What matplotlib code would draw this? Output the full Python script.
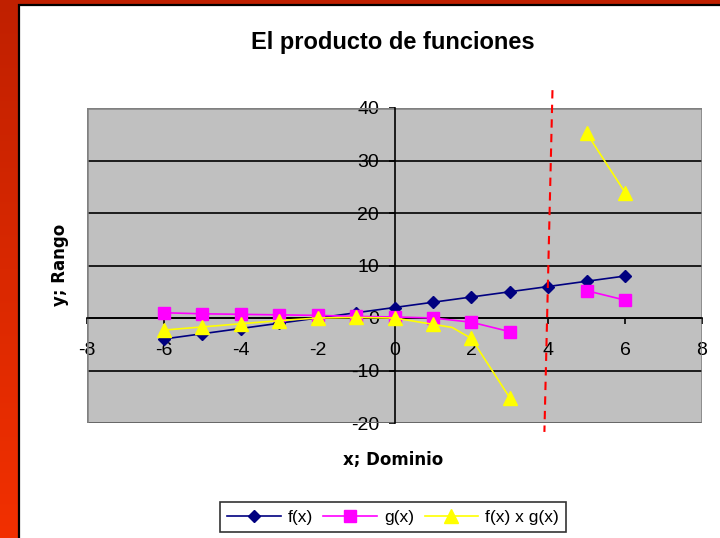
"""
El producto de funciones: f(x), g(x) y f(x) x g(x).
"""

import matplotlib

matplotlib.use("Agg")
import matplotlib.pyplot as plt
import numpy as np
from matplotlib.patches import Rectangle

# valores
x_f = [-6, -5, -4, -3, -2, -1, 0, 1, 2, 3, 4, 5, 6]
f_vals = [-4, -3, -2, -1, 0, 1, 2, 3, 4, 5, 6, 7, 8]

x_g = [-6, -5, -4, -3, -2, -1, 0, 1, 2, 3, np.nan, 5, 6]
g_vals = [1.0, 0.8, 0.7, 0.6, 0.5, 0.3, 0.2, 0.0, -0.8, -2.6, np.nan, 5.2, 3.4]

x_fg = [-6, -5, -4, -3, -2, -1, 0, 1, 1.5, 2, 3, np.nan, 5, 6]
fg_vals = [-2.3, -1.7, -1.1, -0.5, 0.0, 0.1, 0.0, -1.2, -1.8, -3.9, -15.2, np.nan, 35.2, 23.9]
fg_markers = [0, 1, 2, 3, 4, 5, 6, 7, 9, 10, 12, 13]

# asintota dibujada a mano (extremos)
asym_x = [4.11, 3.90]
asym_y = [43.4, -21.7]

x_ticks = [-8, -6, -4, -2, 0, 2, 4, 6, 8]
y_ticks = [-20, -10, 0, 10, 20, 30, 40]

W, H = 720, 538


def main() -> None:
    fig = plt.figure(figsize=(W / 100, H / 100), dpi=100)

    # marco rojo degradado
    bg = fig.add_axes([0, 0, 1, 1], zorder=-5)
    bg.set_xlim(0, W)
    bg.set_ylim(H, 0)
    bg.axis("off")
    top = np.array([0xC0, 0x20, 0x00]) / 255
    bot = np.array([0xF2, 0x30, 0x00]) / 255
    t = np.linspace(0, 1, 256)[:, None, None]
    grad = top * (1 - t) + bot * t
    bg.imshow(grad, extent=(0, W, H, 0), aspect="auto")
    bg.add_patch(Rectangle((19, 5), W - 19 + 5, H, facecolor="white",
                           edgecolor="black", lw=1.6))

    ax = fig.add_axes([87 / W, 115 / H, 615 / W, 315 / H])
    ax.set_facecolor("#C0C0C0")
    ax.set_xlim(-8, 8)
    ax.set_ylim(-20, 40)

    for side in ("top", "right"):
        ax.spines[side].set_visible(False)
    ax.spines["left"].set_position(("data", 0))
    ax.spines["bottom"].set_position(("data", 0))
    for side in ("left", "bottom"):
        ax.spines[side].set_color("black")
        ax.spines[side].set_linewidth(1.2)
    ax.add_patch(Rectangle((0, 0), 1, 1, transform=ax.transAxes, fill=False,
                           edgecolor="#808080", lw=1.8, zorder=1))

    ax.set_yticks(y_ticks)
    ax.set_xticks(x_ticks)
    ax.set_yticklabels([str(v) for v in y_ticks])
    ax.set_xticklabels([str(v) for v in x_ticks])
    ax.tick_params(axis="both", direction="out", length=4, width=1.2,
                   labelsize=14, color="black", labelcolor="black")
    ax.tick_params(axis="y", pad=7)
    ax.tick_params(axis="x", pad=13)
    ax.yaxis.grid(True, color="black", lw=1.2)
    ax.set_axisbelow(True)
    for lab in ax.get_xticklabels() + ax.get_yticklabels():
        lab.set_fontfamily("Liberation Sans")

    ax.plot(x_f, f_vals, color="#000080", lw=1.2, marker="D", ms=6.5,
            label="f(x)", zorder=3)
    ax.plot(x_g, g_vals, color="#FF00FF", lw=1.2, marker="s", ms=8.5,
            label="g(x)", zorder=4)
    ax.plot(x_fg, fg_vals, color="#FFFF00", lw=1.2, marker="^", ms=10,
            markevery=fg_markers, label="f(x) x g(x)", zorder=5)

    ax.plot(asym_x, asym_y, color="red", lw=1.5, ls=(0, (4, 3)),
            clip_on=False, zorder=6)

    fig.text(393 / W, 1 - 42 / H, "El producto de funciones", ha="center",
             va="center", fontsize=17, fontweight="bold",
             family="Liberation Sans")
    fig.text(393 / W, 1 - 460 / H, "x; Dominio", ha="center", va="center",
             fontsize=12, fontweight="bold")
    fig.text(60 / W, 1 - 265 / H, "y; Rango", ha="center", va="center",
             rotation=90, fontsize=12, fontweight="bold")

    leg = fig.legend(loc="center", bbox_to_anchor=(393 / W, 1 - 517 / H),
                     ncol=3, frameon=True, fancybox=False, edgecolor="black",
                     prop={"family": "Liberation Sans", "size": 12.5},
                     handlelength=3.1, columnspacing=0.6, handletextpad=0.4,
                     borderpad=0.4)
    leg.get_frame().set_linewidth(1.2)

    fig.savefig("out.png", dpi=100)
    plt.close(fig)


if __name__ == "__main__":
    main()
